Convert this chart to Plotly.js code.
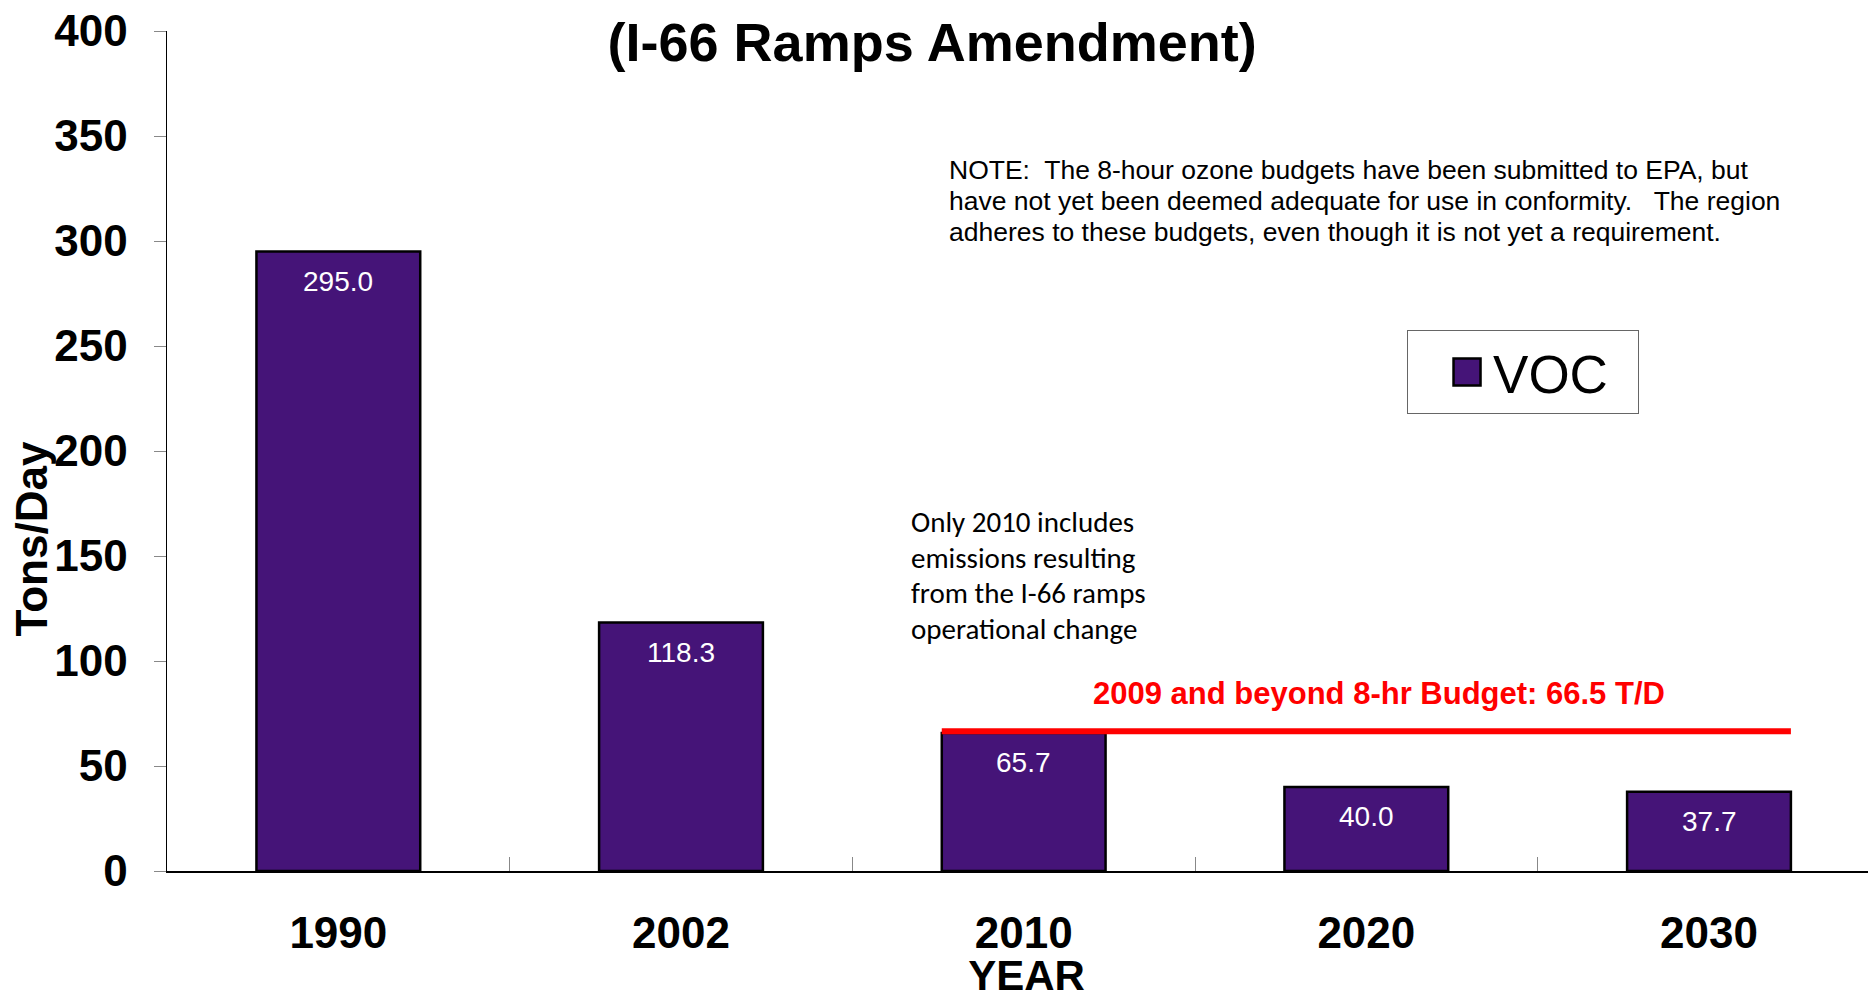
<!DOCTYPE html>
<html>
<head>
<meta charset="utf-8">
<script src="https://cdn.plot.ly/plotly-3.0.1.min.js"></script>
<style>
  html, body { margin: 0; padding: 0; background: #ffffff; }
  #chart { width: 1868px; height: 1003px; }
</style>
</head>
<body>
<div id="chart"></div>
<script>
// ---- data ----
const years = ['1990', '2002', '2010', '2020', '2030'];
const vocValues = [295.0, 118.3, 65.7, 40.0, 37.7];
const valueLabels = ['295.0', '118.3', '65.7', '40.0', '37.7'];
const seriesName = 'VOC';
const budgetValue = 66.5;
const budgetLabel = '2009 and beyond 8-hr Budget: 66.5 T/D';
const budgetFromIndex = 2; // 2010
const budgetToIndex = 4;   // 2030
const yTicks = [0, 50, 100, 150, 200, 250, 300, 350, 400];
const titleText = '(I-66 Ramps Amendment)';
const xTitle = 'YEAR';
const yTitle = 'Tons/Day';
const noteLines = [
  'NOTE:  The 8-hour ozone budgets have been submitted to EPA, but',
  'have not yet been deemed adequate for use in conformity.   The region',
  'adheres to these budgets, even though it is not yet a requirement.'
];
const rampLines = [
  'Only 2010 includes',
  'emissions resulting',
  'from the I-66 ramps',
  'operational change'
];

// ---- styles ----
const BAR_WIDTH = 0.478;
const SANS = 'Liberation Sans, Arial, sans-serif';
const barColor = '#451478';

const trace = {
  type: 'bar',
  name: seriesName,
  x: years,
  y: vocValues,
  width: BAR_WIDTH,
  marker: { color: barColor, line: { color: '#000000', width: 2.5 } },
  hoverinfo: 'x+y',
  showlegend: true
};

const annotations = [];
// value labels inside bars, near the top
years.forEach((yr, i) => {
  annotations.push({
    xref: 'x', yref: 'y', x: i, y: vocValues[i],
    text: valueLabels[i], showarrow: false,
    xanchor: 'center', yanchor: 'top', yshift: -12,
    font: { family: SANS, size: 28, color: '#ffffff' }
  });
});
// budget label
annotations.push({
  xref: 'x', yref: 'y', x: (budgetFromIndex + budgetToIndex) / 2, y: budgetValue,
  text: budgetLabel, showarrow: false, xanchor: 'center', yanchor: 'bottom',
  xshift: 13, yshift: 18,
  font: { family: SANS, size: 31, color: '#ff0000', weight: 700 }
});
// note lines (tight line spacing as in the original)
const noteTop = 0.8345, noteStep = 0.0369;
noteLines.forEach((ln, i) => {
  annotations.push({
    xref: 'paper', yref: 'paper', x: 0.4585, y: noteTop - i * noteStep,
    text: ln, showarrow: false, align: 'left',
    xanchor: 'left', yanchor: 'middle',
    font: { family: SANS, size: 26.5, color: '#000000' }
  });
});
// ramps note lines
const rampTop = 0.4155, rampStep = 0.0425;
rampLines.forEach((ln, i) => {
  annotations.push({
    xref: 'paper', yref: 'paper', x: 0.436, y: rampTop - i * rampStep,
    text: ln, showarrow: false, align: 'left',
    xanchor: 'left', yanchor: 'middle',
    font: { family: 'Carlito, Calibri, Lato, sans-serif', size: 29, color: '#000000' }
  });
});

const layout = {
  width: 1868, height: 1003,
  margin: { l: 167, r: 0, t: 31, b: 132, pad: 0 },
  paper_bgcolor: '#ffffff', plot_bgcolor: '#ffffff',
  font: { family: SANS, color: '#000000' },
  title: {
    text: titleText, x: 0.499, xref: 'container', y: 1 - 42 / 1003, yref: 'container',
    xanchor: 'center', yanchor: 'middle',
    font: { family: SANS, size: 54, weight: 700, color: '#000000' }
  },
  xaxis: {
    type: 'category', range: [-0.5, 4.464],
    showline: true, linecolor: '#000000', linewidth: 1.5,
    ticks: 'inside', tickson: 'boundaries', ticklen: 14, tickcolor: '#888888', tickwidth: 1,
    tickfont: { family: SANS, size: 44, weight: 700, color: '#000000' },
    ticklabelstandoff: 23,
    showgrid: false, zeroline: false,
    title: { text: xTitle, standoff: 4, font: { family: SANS, size: 42, weight: 700, color: '#000000' } }
  },
  yaxis: {
    range: [0, 400], tickvals: yTicks,
    showline: true, linecolor: '#000000', linewidth: 1.5,
    ticks: 'outside', ticklen: 12, tickcolor: '#888888', tickwidth: 1,
    tickfont: { family: SANS, size: 44, weight: 700, color: '#000000' },
    ticklabelstandoff: 17,
    showgrid: false, zeroline: false,
    title: { text: yTitle, standoff: 0, font: { family: SANS, size: 44, weight: 700, color: '#000000' } }
  },
  shapes: [{
    type: 'line', xref: 'x', yref: 'y', layer: 'above',
    x0: budgetFromIndex - BAR_WIDTH / 2, x1: budgetToIndex + BAR_WIDTH / 2,
    y0: budgetValue, y1: budgetValue,
    line: { color: '#ff0000', width: 6 }
  }],
  annotations: annotations,
  showlegend: true,
  legend: {
    orientation: 'h',
    x: 0.729, y: 0.644, xanchor: 'left', yanchor: 'top',
    bgcolor: '#ffffff', bordercolor: '#666666', borderwidth: 1,
    itemwidth: 75, entrywidth: 140, entrywidthmode: 'pixels',
    font: { family: SANS, size: 53, color: '#000000' }
  },
  bargap: 0.5
};

Plotly.newPlot('chart', [trace], layout, { displayModeBar: false, staticPlot: true }).then(() => {
  // enlarge the legend swatch to the original's size
  document.querySelectorAll('.legend .legendpoints path').forEach(p => {
    p.setAttribute('transform', 'translate(59,0) scale(2.25)');
    p.style.vectorEffect = 'non-scaling-stroke';
  });
  // the original's y title sits below the axis middle
  document.querySelectorAll('.g-ytitle').forEach(g => g.setAttribute('transform', 'translate(7,88)'));
  document.querySelectorAll('.g-xtitle').forEach(g => g.setAttribute('transform', 'translate(9,0)'));
});
</script>
</body>
</html>
